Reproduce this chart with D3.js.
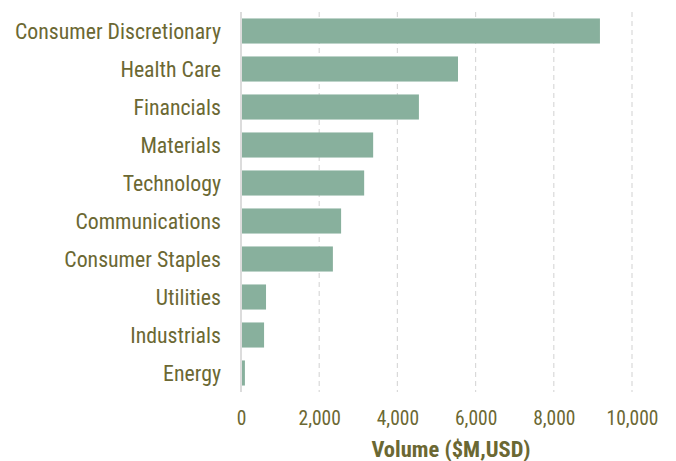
<!DOCTYPE html>
<html>
<head>
<meta charset="utf-8">
<script src="https://cdn.jsdelivr.net/npm/d3@7"></script>
<style>
  body { margin: 0; background: #fff; }
  text { font-family: "Roboto Condensed", "Liberation Sans Narrow", "DejaVu Sans Condensed", sans-serif; }
</style>
</head>
<body>
<svg id="chart" width="676" height="461"></svg>
<script>
// sectors and volumes ($M, USD)
var categories = ["Consumer Discretionary", "Health Care", "Financials", "Materials", "Technology",
                  "Communications", "Consumer Staples", "Utilities", "Industrials", "Energy"];
var volumes = [9180, 5550, 4550, 3380, 3150, 2560, 2350, 640, 590, 100];
var xTicks = [0, 2000, 4000, 6000, 8000, 10000];

var textColor = "#6b6833", barColor = "#88b09d";
var plotLeft = 241, plotRight = 632, plotTop = 12, plotBottom = 392;

var svg = d3.select("#chart");

var x = d3.scaleLinear().domain([0, 10000]).range([plotLeft, plotRight]);
var y = d3.scaleBand().domain(categories).range([plotTop, plotBottom]).paddingInner(0.34).paddingOuter(0.17);

// grid
svg.append("g").selectAll("line")
    .data(xTicks.slice(1))
    .enter().append("line")
    .attr("x1", function (d) { return x(d); }).attr("x2", function (d) { return x(d); })
    .attr("y1", plotTop).attr("y2", plotBottom)
    .attr("stroke", "#d9d9d9").attr("stroke-width", 1.2)
    .attr("stroke-dasharray", "5,4");

// bars
svg.append("g").selectAll("rect")
    .data(categories)
    .enter().append("rect")
    .attr("x", x(0))
    .attr("y", function (d) { return y(d); })
    .attr("height", y.bandwidth())
    .attr("width", function (d, i) { return x(volumes[i]) - x(0); })
    .attr("fill", barColor);

// zero line
svg.append("line")
    .attr("x1", x(0)).attr("x2", x(0)).attr("y1", plotTop).attr("y2", plotBottom)
    .attr("stroke", "#dcdcdc").attr("stroke-width", 2);

// category labels
var yAxis = svg.append("g").attr("transform", "translate(" + (plotLeft - 20) + ",0)")
    .call(d3.axisLeft(y).tickSize(0).tickPadding(0));
yAxis.select(".domain").remove();
yAxis.selectAll("text").attr("fill", textColor).style("font-size", "21.8px").attr("dy", "0.36em");

// value ticks
var xAxis = svg.append("g").attr("transform", "translate(0," + 411 + ")")
    .call(d3.axisBottom(x).tickValues(xTicks).tickSize(0).tickPadding(0).tickFormat(d3.format(",")));
xAxis.select(".domain").remove();
xAxis.selectAll("text").attr("fill", textColor).style("font-size", "19.5px").attr("dy", "0.71em");

svg.append("text")
    .attr("x", 451).attr("y", 457)
    .attr("text-anchor", "middle")
    .attr("fill", textColor)
    .style("font-size", "22.5px").style("font-weight", "bold")
    .text("Volume ($M,USD)");
</script>
</body>
</html>
